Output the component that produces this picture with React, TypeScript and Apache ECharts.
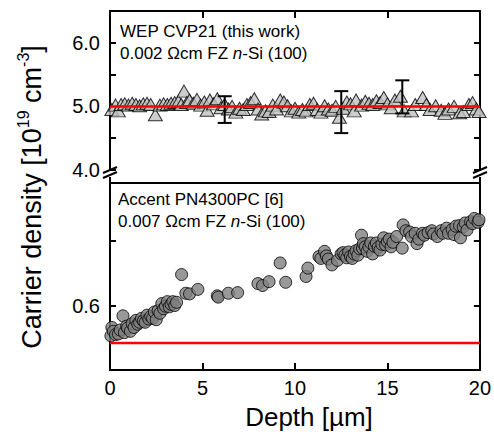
import React, { useEffect, useRef } from "react";
import * as echarts from "echarts";

// Depth [µm], carrier density [1e19 cm^-3] — WEP CVP21 (triangles)
const topPoints: [number, number][] = [
  [0.1, 4.95], [0.3, 5.02], [0.45, 4.93], [0.6, 5.03], [0.8, 5.04], [1.0, 5.02], [1.2, 5.05],
  [1.4, 5.03], [1.6, 5.01], [1.8, 5.04], [2.0, 5.05], [2.2, 5.03], [2.45, 4.87], [2.7, 5.02],
  [2.9, 5.04], [3.1, 5.03], [3.3, 5.05], [3.5, 5.06], [3.7, 5.08], [3.85, 5.03], [4.0, 5.24],
  [4.15, 5.06], [4.3, 5.1], [4.5, 5.05], [4.7, 5.11], [4.9, 5.02], [5.1, 5.07], [5.25, 4.94],
  [5.4, 5.1], [5.6, 5.04], [5.8, 5.12], [6.0, 4.98], [6.2, 5.03], [6.4, 4.96], [6.6, 5.0],
  [6.8, 4.91], [7.0, 4.97], [7.2, 4.95], [7.4, 5.03], [7.6, 5.06], [7.8, 5.12], [8.0, 4.96],
  [8.2, 4.88], [8.4, 4.93], [8.6, 4.92], [8.8, 5.02], [9.0, 4.96], [9.2, 5.1], [9.4, 5.07],
  [9.6, 5.01], [9.8, 4.93], [10.0, 4.97], [10.2, 4.91], [10.4, 4.95], [10.6, 4.93], [10.8, 5.03],
  [11.0, 5.05], [11.2, 4.95], [11.4, 4.91], [11.6, 5.01], [11.8, 4.96], [12.0, 4.94], [12.2, 5.0],
  [12.4, 4.83], [12.6, 4.97], [12.8, 5.07], [13.0, 5.04], [13.2, 4.93], [13.3, 5.1], [13.6, 5.02],
  [13.8, 5.08], [14.0, 5.05], [14.2, 5.03], [14.4, 5.09], [14.6, 5.06], [14.8, 5.14], [15.0, 5.04],
  [15.2, 4.98], [15.4, 5.1], [15.7, 5.16], [15.9, 4.93], [16.3, 4.93], [16.5, 5.03], [16.9, 5.14],
  [17.1, 5.03], [17.3, 4.95], [17.6, 5.01], [17.9, 4.94], [18.1, 4.89], [18.3, 4.96], [18.6, 5.0],
  [18.9, 4.9], [19.1, 4.92], [19.4, 5.03], [19.6, 5.06], [19.8, 4.96], [19.95, 4.92],
];

// Error bars: depth, low, high
const errorBars: [number, number, number][] = [
  [6.2, 4.74, 5.16],
  [12.5, 4.58, 5.24],
  [15.8, 4.89, 5.41],
];

// Accent PN4300PC (circles)
const bottomPoints: [number, number][] = [
  [0.05, 0.553], [0.1, 0.566], [0.18, 0.56], [0.3, 0.555], [0.45, 0.556], [0.55, 0.562], [0.7, 0.584],
  [0.78, 0.558], [0.9, 0.568], [0.95, 0.565], [1.1, 0.56], [1.2, 0.572], [1.3, 0.566], [1.4, 0.577],
  [1.5, 0.571], [1.6, 0.574], [1.7, 0.58], [1.8, 0.576], [1.9, 0.574], [2.0, 0.585], [2.1, 0.579],
  [2.2, 0.583], [2.3, 0.58], [2.4, 0.59], [2.5, 0.578], [2.6, 0.592], [2.7, 0.588], [2.8, 0.603],
  [2.9, 0.595], [3.0, 0.599], [3.1, 0.606], [3.2, 0.598], [3.3, 0.602], [3.4, 0.606], [3.5, 0.6],
  [3.6, 0.605], [3.87, 0.648], [4.1, 0.619], [4.3, 0.618], [4.75, 0.625], [5.8, 0.615], [5.85, 0.613],
  [6.4, 0.619], [6.9, 0.62], [8.0, 0.634], [8.25, 0.631], [8.6, 0.637], [9.2, 0.666], [9.5, 0.636],
  [10.6, 0.645], [10.7, 0.658], [11.3, 0.676], [11.4, 0.673], [11.6, 0.684], [11.7, 0.677], [11.8, 0.672],
  [12.0, 0.663], [12.3, 0.67], [12.5, 0.68], [12.6, 0.682], [12.7, 0.678], [12.8, 0.674], [12.9, 0.683],
  [13.0, 0.676], [13.1, 0.673], [13.2, 0.68], [13.3, 0.685], [13.4, 0.678], [13.5, 0.688], [13.6, 0.709],
  [13.65, 0.689], [13.7, 0.696], [13.8, 0.691], [13.9, 0.684], [14.0, 0.691], [14.1, 0.697], [14.2, 0.68],
  [14.3, 0.692], [14.4, 0.697], [14.5, 0.69], [14.6, 0.686], [14.7, 0.695], [14.8, 0.705], [14.9, 0.694],
  [15.0, 0.699], [15.1, 0.703], [15.2, 0.691], [15.3, 0.698], [15.5, 0.707], [15.8, 0.689], [15.85, 0.725],
  [16.0, 0.716], [16.2, 0.714], [16.3, 0.707], [16.5, 0.712], [16.6, 0.696], [16.7, 0.703], [16.9, 0.712],
  [17.0, 0.709], [17.2, 0.713], [17.4, 0.716], [17.5, 0.711], [17.7, 0.707], [17.9, 0.716], [18.0, 0.712],
  [18.2, 0.72], [18.3, 0.712], [18.5, 0.718], [18.6, 0.71], [18.7, 0.723], [18.9, 0.724], [18.95, 0.705],
  [19.1, 0.722], [19.2, 0.728], [19.3, 0.717], [19.5, 0.73], [19.6, 0.727], [19.7, 0.735], [19.9, 0.729],
  [19.95, 0.733],
];

const topReference = 5.0;
const bottomReference = 0.542;
const depthRange = [0, 20];
const topLabels = [4, 5, 6];
const bottomLabels = [0.6];

const FONT = "Arial, 'Liberation Sans', sans-serif";

export default function App() {
  const ref = useRef<HTMLDivElement>(null);

  useEffect(() => {
    if (!ref.current) return;
    const chart = echarts.init(ref.current, null, { renderer: "svg" });
    const axisLine = { show: true, onZero: false, lineStyle: { color: "#000", width: 2 } };
    const tick = (len: number) => ({ show: true, inside: true, length: len, lineStyle: { color: "#000", width: 2 } });

    const option: any = {
      animation: false,
      backgroundColor: "#fff",
      grid: [
        { left: 110, right: 14, top: 11, height: 159 },
        { left: 110, right: 14, top: 183, height: 187 },
      ],
      xAxis: [
        {
          gridIndex: 0, type: "value", min: depthRange[0], max: depthRange[1], interval: 5, position: "top",
          axisLine, axisTick: tick(7), axisLabel: { show: false }, splitLine: { show: false },
        },
        {
          gridIndex: 1, type: "value", min: depthRange[0], max: depthRange[1], interval: 5, position: "bottom",
          axisLine, axisTick: tick(7),
          axisLabel: { show: true, color: "#000", fontSize: 20, fontFamily: FONT, margin: 8 },
          splitLine: { show: false },
        },
        {
          gridIndex: 1, type: "value", min: depthRange[0], max: depthRange[1], interval: 5, position: "top",
          axisLine, axisTick: { show: false }, axisLabel: { show: false }, splitLine: { show: false },
        },
      ],
      yAxis: [
        {
          gridIndex: 0, type: "value", min: 4, max: 6.5, interval: 0.5, position: "left",
          axisLine, axisTick: tick(6),
          axisLabel: {
            color: "#000", fontSize: 20, fontFamily: FONT, margin: 10,
            formatter: (v: number) => (topLabels.some((t) => Math.abs(t - v) < 1e-6) ? v.toFixed(1) : ""),
          },
          splitLine: { show: false },
        },
        {
          gridIndex: 0, type: "value", min: 4, max: 6.5, interval: 0.5, position: "right",
          axisLine, axisTick: tick(6), axisLabel: { show: false }, splitLine: { show: false },
        },
        {
          gridIndex: 1, type: "value", min: 0.5, max: 0.79, interval: 0.1, position: "left",
          axisLine, axisTick: tick(6),
          axisLabel: {
            color: "#000", fontSize: 20, fontFamily: FONT, margin: 10,
            formatter: (v: number) => (bottomLabels.some((t) => Math.abs(t - v) < 1e-6) ? v.toFixed(1) : ""),
          },
          splitLine: { show: false },
        },
        {
          gridIndex: 1, type: "value", min: 0.5, max: 0.79, interval: 0.1, position: "right",
          axisLine, axisTick: tick(6), axisLabel: { show: false }, splitLine: { show: false },
        },
      ],
      series: [
        {
          type: "scatter", xAxisIndex: 0, yAxisIndex: 0, data: topPoints,
          symbol: "triangle", symbolSize: [14, 12], z: 2,
          itemStyle: { color: "#c0c0c0", borderColor: "#000", borderWidth: 1 },
        },
        {
          type: "custom", xAxisIndex: 0, yAxisIndex: 0, data: errorBars, z: 3,
          encode: { x: 0, y: [1, 2] },
          renderItem: (params: any, api: any) => {
            const x = api.value(0);
            const lo = api.coord([x, api.value(1)]);
            const hi = api.coord([x, api.value(2)]);
            const w = 7;
            const st = { stroke: "#000", lineWidth: 2 };
            return {
              type: "group",
              children: [
                { type: "line", shape: { x1: lo[0], y1: lo[1], x2: hi[0], y2: hi[1] }, style: st },
                { type: "line", shape: { x1: lo[0] - w, y1: lo[1], x2: lo[0] + w, y2: lo[1] }, style: st },
                { type: "line", shape: { x1: hi[0] - w, y1: hi[1], x2: hi[0] + w, y2: hi[1] }, style: st },
              ],
            };
          },
        },
        {
          type: "line", xAxisIndex: 0, yAxisIndex: 0, z: 4, showSymbol: false, symbol: "none",
          data: [[depthRange[0], topReference], [depthRange[1], topReference]],
          lineStyle: { color: "#ff0000", width: 2.5 },
        },
        {
          type: "scatter", xAxisIndex: 1, yAxisIndex: 2, data: bottomPoints,
          symbol: "circle", symbolSize: 12, z: 2,
          itemStyle: { color: "#7f7f7f", borderColor: "#000", borderWidth: 1 },
        },
        {
          type: "line", xAxisIndex: 1, yAxisIndex: 2, z: 4, showSymbol: false, symbol: "none",
          data: [[depthRange[0], bottomReference], [depthRange[1], bottomReference]],
          lineStyle: { color: "#ff0000", width: 2.5 },
        },
      ],
      graphic: [
        // axis break marks
        { type: "line", shape: { x1: 103, y1: 173, x2: 117, y2: 167 }, style: { stroke: "#000", lineWidth: 2 } },
        { type: "line", shape: { x1: 103, y1: 178, x2: 117, y2: 172 }, style: { stroke: "#000", lineWidth: 2 } },
        { type: "line", shape: { x1: 473, y1: 173, x2: 487, y2: 167 }, style: { stroke: "#000", lineWidth: 2 } },
        { type: "line", shape: { x1: 473, y1: 178, x2: 487, y2: 172 }, style: { stroke: "#000", lineWidth: 2 } },
        { type: "line", shape: { x1: 110, y1: 177, x2: 110, y2: 184 }, style: { stroke: "#000", lineWidth: 2 } },
        { type: "line", shape: { x1: 480, y1: 177, x2: 480, y2: 184 }, style: { stroke: "#000", lineWidth: 2 } },
        // annotations
        {
          type: "text", x: 120, y: 31,
          style: { text: "WEP CVP21 (this work)", fontSize: 17, fontFamily: FONT, fill: "#000", textAlign: "left", textVerticalAlign: "middle" },
        },
        {
          type: "text", x: 120, y: 53,
          style: {
            text: "0.002 Ωcm FZ {i|n}-Si (100)", fontSize: 17, fontFamily: FONT, fill: "#000",
            textAlign: "left", textVerticalAlign: "middle",
            rich: { i: { fontStyle: "italic", fontSize: 17, fontFamily: FONT } },
          },
        },
        {
          type: "text", x: 118, y: 199,
          style: { text: "Accent PN4300PC [6]", fontSize: 17, fontFamily: FONT, fill: "#000", textAlign: "left", textVerticalAlign: "middle" },
        },
        {
          type: "text", x: 118, y: 221,
          style: {
            text: "0.007 Ωcm FZ {i|n}-Si (100)", fontSize: 17, fontFamily: FONT, fill: "#000",
            textAlign: "left", textVerticalAlign: "middle",
            rich: { i: { fontStyle: "italic", fontSize: 17, fontFamily: FONT } },
          },
        },
        // axis titles
        {
          type: "text", x: 30, y: 197, rotation: Math.PI / 2,
          style: {
            text: "{m|Carrier density [10}{s|19}{m| cm}{s|-3}{m|]}",
            textAlign: "center", textVerticalAlign: "middle", fill: "#000",
            rich: {
              m: { fontSize: 27, fontFamily: FONT, lineHeight: 30, verticalAlign: "bottom" },
              s: { fontSize: 16, fontFamily: FONT, lineHeight: 16, verticalAlign: "top" },
            },
          },
        },
        {
          type: "text", x: 309, y: 417,
          style: { text: "Depth [µm]", fontSize: 26, fontFamily: FONT, fill: "#000", textAlign: "center", textVerticalAlign: "middle" },
        },
      ],
    };
    chart.setOption(option);
    return () => chart.dispose();
  }, []);

  return <div ref={ref} style={{ position: "fixed", left: 0, top: 0, width: 494, height: 432 }} />;
}
